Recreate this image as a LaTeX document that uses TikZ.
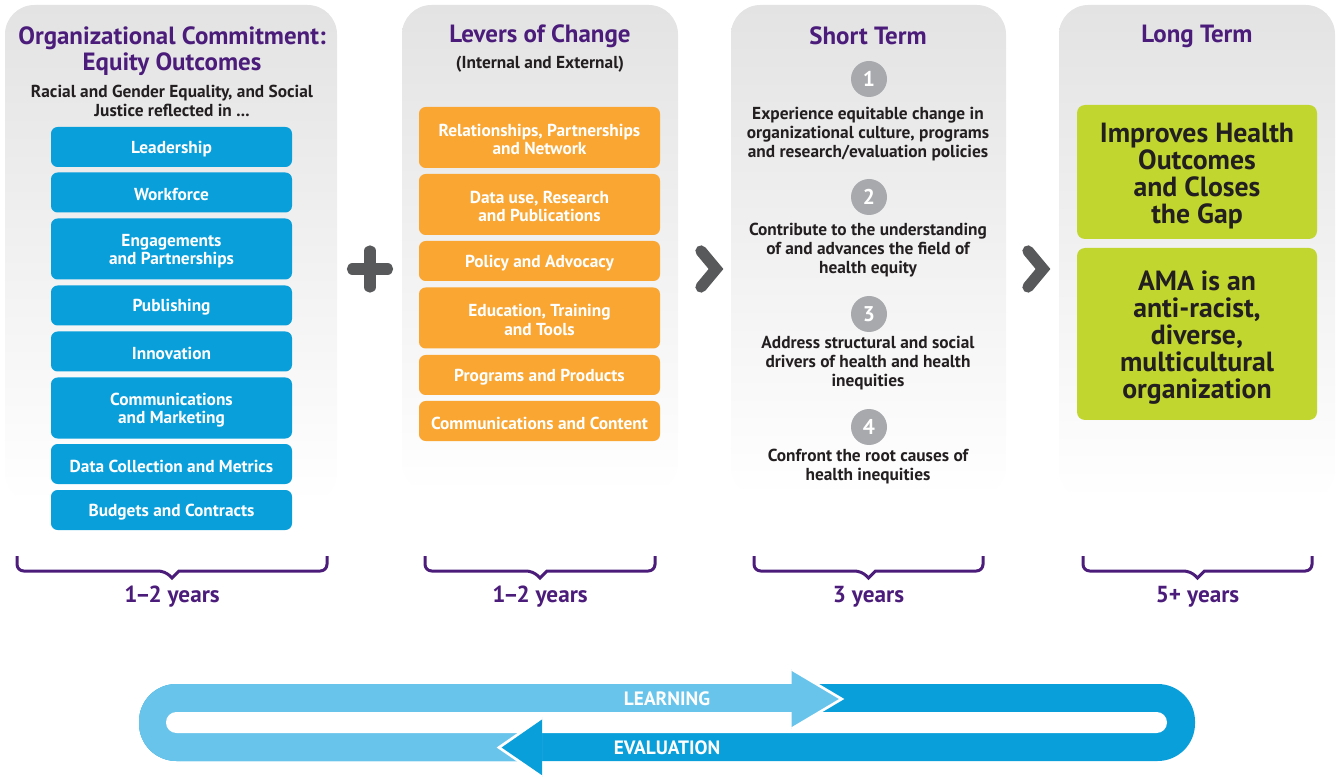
\documentclass[tikz,border=0pt]{standalone}
\usepackage{fontspec}
\setmainfont{PT Sans}
\usepackage{xcolor}
\usepackage{tikz}
\usetikzlibrary{positioning}

\definecolor{titlepurple}{RGB}{75,28,122}
\definecolor{textdark}{RGB}{35,31,32}
\definecolor{panelgray}{RGB}{227,227,228}
\definecolor{amablue}{RGB}{8,159,219}
\definecolor{loopblue}{RGB}{105,196,236}
\definecolor{amaorange}{RGB}{249,166,51}
\definecolor{amagreen}{RGB}{193,214,47}
\definecolor{signgray}{RGB}{88,89,91}
\definecolor{circlegray}{RGB}{167,169,172}

% pushes the first line of a box a little lower
\newcommand{\boxup}{\rule{0pt}{12.4pt}}
\newcommand{\greenup}{\rule{0pt}{20.5pt}}

\tikzset{
  coltitle/.style={font=\bfseries\fontsize{18.7}{19.5}\selectfont, text=titlepurple, align=center},
  subtitle/.style={font=\bfseries\fontsize{13}{14.25}\selectfont, text=textdark, align=center},
  bluebox/.style={fill=amablue, rounded corners=5pt, minimum width=180.75pt, minimum height=30pt,
    inner sep=0pt, text=white, font=\bfseries\fontsize{13}{13.9}\selectfont, align=center},
  tallbox/.style={minimum height=45.75pt},
  orangebox/.style={bluebox, fill=amaorange},
  greenbox/.style={fill=amagreen, rounded corners=6pt, minimum width=180pt, inner sep=0pt,
    text=textdark, font=\bfseries\fontsize{20.8}{20.25}\selectfont, align=center},
  numcirc/.style={circle, fill=circlegray, minimum size=27pt, inner sep=0pt, text=white,
    font=\bfseries\fontsize{16}{16}\selectfont},
  steptext/.style={font=\bfseries\fontsize{13}{14.25}\selectfont, text=textdark, align=center},
  yearlabel/.style={font=\bfseries\fontsize{17.4}{18}\selectfont, text=titlepurple},
  braceline/.style={draw=titlepurple, line width=2.25pt},
  symbolline/.style={draw=signgray, line width=8.5pt, line cap=round},
  looplabel/.style={font=\bfseries\fontsize{14.5}{14.5}\selectfont, text=white}
}

\begin{document}
\begin{tikzpicture}[x=0.75pt, y=-0.75pt]
\useasboundingbox (0,0) rectangle (1336,777);

% column panels
\shade[top color=panelgray, bottom color=white, rounded corners=22pt] (5,5) rectangle (337,503);
\shade[top color=panelgray, bottom color=white, rounded corners=22pt] (402,5) rectangle (678,493);
\shade[top color=panelgray, bottom color=white, rounded corners=22pt] (731,5) rectangle (1006,497);
\shade[top color=panelgray, bottom color=white, rounded corners=22pt] (1059,5) rectangle (1335,500);

% organizational commitment
\node[coltitle] (committitle) at (172,51) {Organizational Commitment:\\Equity Outcomes};
\node[subtitle] (commitsub) at (172,100.5) {Racial and Gender Equality, and Social\\Justice reflected in ...};
\node[bluebox] (leadership) at (171.5,147) {\boxup Leadership};
\node[bluebox] (workforce) at (171.5,192.5) {\boxup Workforce};
\node[bluebox, tallbox] (engage) at (171.5,249) {\boxup Engagements\\and Partnerships};
\node[bluebox] (publishing) at (171.5,305.5) {\boxup Publishing};
\node[bluebox] (innovation) at (171.5,351.5) {\boxup Innovation};
\node[bluebox, tallbox] (commmarket) at (171.5,408) {\boxup Communications\\and Marketing};
\node[bluebox] (datacoll) at (171.5,464) {\boxup Data Collection and Metrics};
\node[bluebox] (budgets) at (171.5,510) {\boxup Budgets and Contracts};

% plus
\draw[symbolline] (352.5,269) -- (387.5,269);
\draw[symbolline] (370,251) -- (370,287);

% levers of change
\node[coltitle] (levertitle) at (540,36.5) {Levers of Change};
\node[subtitle] (leversub) at (540,64) {(Internal and External)};
\node[orangebox, tallbox] (relations) at (539.5,137.5) {\boxup Relationships, Partnerships\\and Network};
\node[orangebox, tallbox] (datause) at (539.5,204.5) {\boxup Data use, Research\\and Publications};
\node[orangebox] (policy) at (539.5,261) {\boxup Policy and Advocacy};
\node[orangebox, tallbox] (education) at (539.5,318) {\boxup Education, Training\\and Tools};
\node[orangebox] (programs) at (539.5,375) {\boxup Programs and Products};
\node[orangebox] (commcontent) at (539.5,421) {\boxup Communications and Content};

% chevrons
\draw[symbolline, line join=miter] (701,251) -- (716,269) -- (701,287);
\draw[symbolline, line join=miter] (1028,251) -- (1043,269) -- (1028,287);

% short term
\node[coltitle] (shorttitle) at (868,35.5) {Short Term};
\node[numcirc] (num1) at (869,79) {1};
\node[steptext] (step1) at (868,134.5) {Experience equitable change in\\organizational culture, programs\\and research/evaluation policies};
\node[numcirc] (num2) at (869,197) {2};
\node[steptext] (step2) at (868,250.5) {Contribute to the understanding\\of and advances the field of\\health equity};
\node[numcirc] (num3) at (869,314) {3};
\node[steptext] (step3) at (868,363.5) {Address structural and social\\drivers of health and health\\inequities};
\node[numcirc] (num4) at (869,427) {4};
\node[steptext] (step4) at (868,467) {Confront the root causes of\\health inequities};

% long term
\node[coltitle] (longtitle) at (1197,36) {Long Term};
\node[greenbox, minimum height=100.5pt] (healthgap) at (1197,172) {\greenup Improves Health\\Outcomes\\and Closes\\the Gap};
\node[greenbox, minimum height=129pt] (antiracist) at (1197,334) {\greenup AMA is an\\anti-racist,\\diverse,\\multicultural\\organization};

% time braces
\foreach \xa/\xb/\yrs [count=\i] in {17/327/1\kern-1.6pt--\kern-1.6pt2 years, 425/655/1\kern-1.6pt--\kern-1.6pt2 years, 754/983/3 years, 1083/1312/5+ years}{
  \draw[braceline] (\xa,556) [rounded corners=5pt] -- (\xa,571) -- ({(\xa+\xb)/2-7},571) [sharp corners]
    -- ({(\xa+\xb)/2},578) -- ({(\xa+\xb)/2+7},571) [rounded corners=5pt] -- (\xb,571) -- (\xb,556);
  \node[yearlabel] (years\i) at ({(\xa+\xb)/2},597) {\yrs};
}

% learning / evaluation loop
\fill[amablue, rounded corners=28pt] (139,684) rectangle (1195,761);
\begin{scope}
  \clip (130,660) -- (792,660) -- (792,722.5) -- (542,722.5) -- (542,777) -- (130,777) -- cycle;
  \fill[loopblue, rounded corners=28pt] (139,684) rectangle (1195,761);
\end{scope}
\fill[white, rounded corners=7.8pt] (166,712) rectangle (1167,733);
\fill[loopblue] (791.7,669.3) -- (841.7,699) -- (791.7,728.7) -- cycle;
\draw[white, line width=2pt] (791.7,669.3) -- (841.7,699) -- (791.7,728.7);
\fill[amablue] (542,717.7) -- (499,747.5) -- (542,777) -- cycle;
\draw[white, line width=2pt] (542,717.7) -- (499,747.5) -- (542,777);
\node[looplabel] (learning) at (667,699) {LEARNING};
\node[looplabel] (evaluation) at (667,747.5) {EVALUATION};
\end{tikzpicture}
\end{document}
